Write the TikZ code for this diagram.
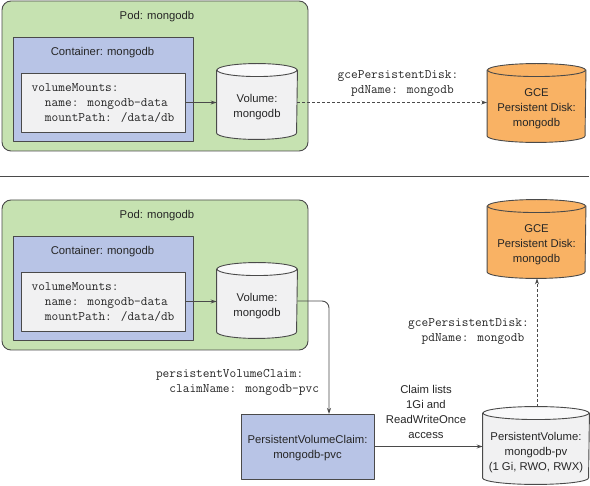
\documentclass[tikz,border=0pt]{standalone}
\usepackage{fontspec}
\setmainfont{Liberation Sans}
\usetikzlibrary{arrows.meta}
\definecolor{podgreen}{HTML}{C6E2B1}
\definecolor{boxblue}{HTML}{B8C4E6}
\definecolor{boxgray}{HTML}{F1F1F2}
\definecolor{diskorange}{HTML}{F9B264}
\definecolor{edgegray}{HTML}{4A4A4A}
% name, x, y, width, height, body colour, lid colour
\newcommand{\drum}[7]{
\node[minimum width=#4pt, minimum height=#5pt] (#1) at (#2,#3) {};
\draw[draw=edgegray, fill=#6] ([yshift=-6.5pt]#1.north west) -- ([yshift=6.5pt]#1.south west) arc[start angle=180, end angle=360, x radius=#4*0.5pt, y radius=6.5pt] -- ([yshift=-6.5pt]#1.north east) -- cycle;
\draw[draw=edgegray, fill=#7] ([yshift=-6.5pt]#1.north) ellipse[x radius=#4*0.5pt, y radius=6.5pt];
}
\begin{document}
\begin{tikzpicture}[x=1pt, y=-1pt, line join=round, line width=0.9pt, >={Stealth[length=6pt,width=4pt]}]
\tikzset{every node/.style={inner sep=0pt, text=black!85, font=\fontsize{11.3}{15}\selectfont, align=center}}
\tikzset{
podbox/.style={draw=edgegray, fill=podgreen, rounded corners=9pt, minimum width=306pt, minimum height=150pt},
bluebox/.style={draw=edgegray, fill=boxblue},
yamlbox/.style={draw=edgegray, fill=boxgray, minimum width=164pt, minimum height=59pt},
yaml/.style={font=\fontsize{13}{15}\selectfont\ttfamily, align=left},
link/.style={draw=edgegray, ->},
dashlink/.style={link, dash pattern=on 3pt off 2pt},
}
\useasboundingbox (0,0) rectangle (590,486);
% the same pod twice
\foreach \p/\dy in {A/0,B/199}{
\node[podbox] (pod\p) at (155,76+\dy) {};
\node (podtitle\p) at (157,16.5+\dy) {Pod: mongodb};
\node[bluebox, minimum width=180pt, minimum height=104pt] (cont\p) at (103,89+\dy) {};
\node (conttitle\p) at (102.5,53+\dy) {Container: mongodb};
\node[yamlbox] (mount\p) at (103,102.5+\dy) {};
\node[yaml] (mounttext\p) at (103,103.5+\dy) {volumeMounts:\\\ \ name: mongodb-data\\\ \ mountPath: /data/db};
\drum{vol\p}{257}{101.5+\dy}{80}{75}{boxgray}{boxgray!40}
\node (voltext\p) at (257,107.5+\dy) {Volume:\\mongodb};
\draw[link] (mount\p.east) -- (vol\p.west |- mount\p.east);
}
% top half
\drum{diskA}{536.5}{103}{98}{78}{diskorange}{diskorange}
\node (disktextA) at (536.5,109) {GCE\\Persistent Disk:\\mongodb};
\draw[dashlink] (volA.east |- mountA.east) -- (diskA.west |- mountA.east);
\node[yaml] (gceA) at (398,83.5) {gcePersistentDisk:\\\ \ pdName: mongodb};
\coordinate (ruleL) at (0,176);
\coordinate (ruleR) at (589,176);
\draw[draw=edgegray] (ruleL) -- (ruleR);
% bottom half
\drum{diskB}{536.5}{239}{98}{78}{diskorange}{diskorange}
\node (disktextB) at (536.5,245) {GCE\\Persistent Disk:\\mongodb};
\node[bluebox, minimum width=133pt, minimum height=65pt] (pvc) at (307.5,446.5) {};
\node (pvctext) at (307.5,448.5) {PersistentVolumeClaim:\\mongodb-pvc};
\drum{pv}{536}{445.5}{106}{77}{boxgray}{boxgray!40}
\node (pvtext) at (536,452.5) {PersistentVolume:\\mongodb-pv\\(1 Gi, RWO, RWX)};
\coordinate (bend) at (329,301);
\coordinate (pvcin) at (329,414);
\draw[link, rounded corners=7pt] (volB.east |- bend) -- (bend) -- (pvcin);
\draw[link] (pvc.east) -- (pv.west |- pvc.east);
\draw[dashlink] (pv.north -| 537,0) -- (diskB.south -| 537,0);
\node[yaml] (gceB) at (468.5,331.5) {gcePersistentDisk:\\\ \ pdName: mongodb};
\node[yaml] (claimref) at (237.5,382.5) {persistentVolumeClaim:\\\ \ claimName: mongodb-pvc};
\node (claimnote) at (426,411.5) {Claim lists\\1Gi and\\ReadWriteOnce\\access};
\end{tikzpicture}
\end{document}
